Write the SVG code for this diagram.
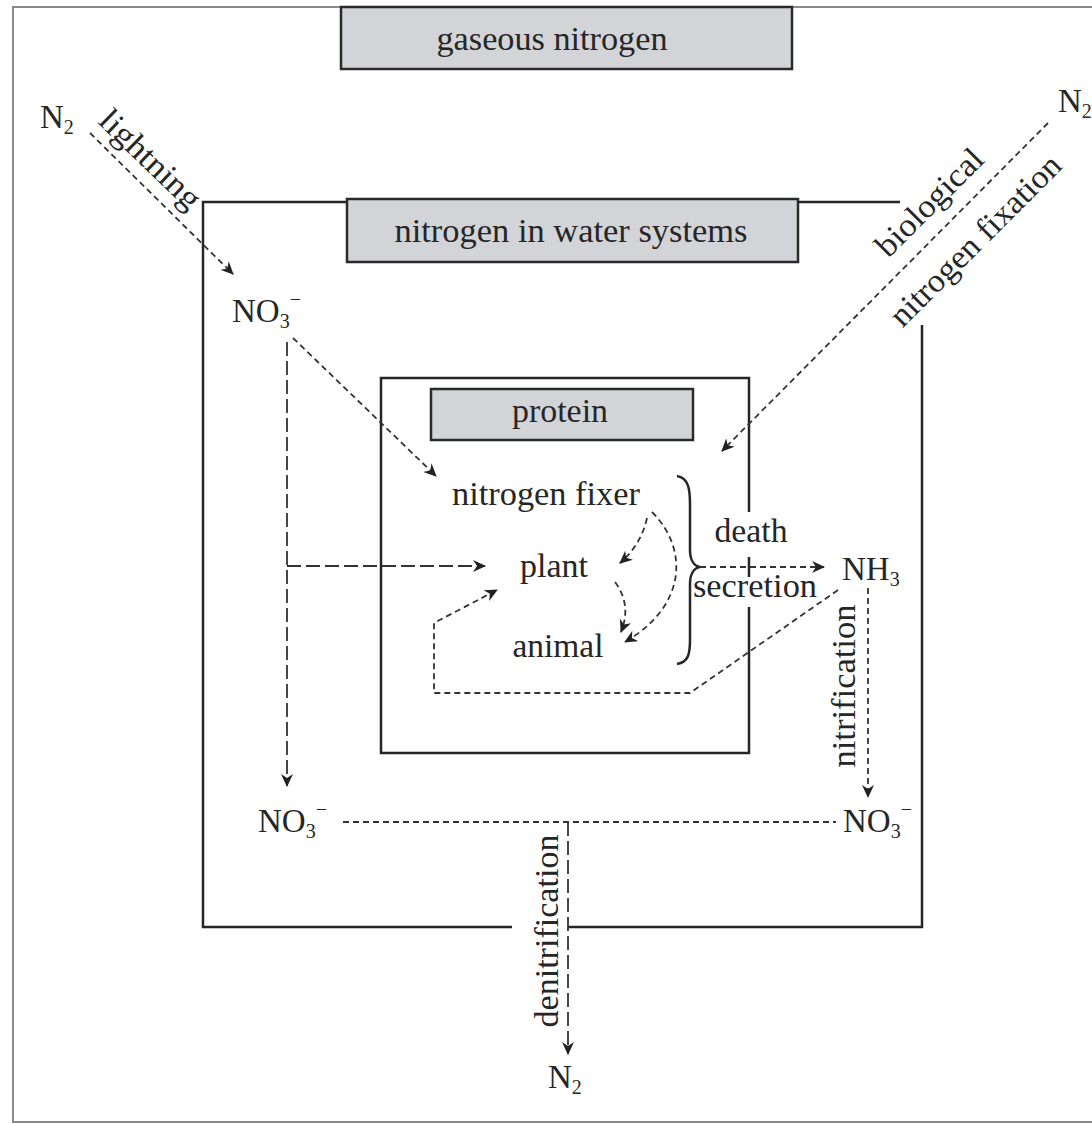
<svg xmlns="http://www.w3.org/2000/svg" width="1092" height="1124" viewBox="0 0 1092 1124">
<style>
.t { font-family: "Liberation Serif", "Times New Roman", serif; font-size: 33px; fill: #262626; }
.s { font-size: 20px; }
.box { fill: #d3d4d8; stroke: #2a2a2a; stroke-width: 2.5; }
.frame { fill: none; stroke: #262626; stroke-width: 2.5; }
.d { fill: none; stroke: #333; stroke-width: 1.8; stroke-dasharray: 6 4; }
.dl { fill: none; stroke: #333; stroke-width: 1.8; stroke-dasharray: 14 5; }
</style>
<defs>
<marker id="ah" markerWidth="14" markerHeight="12" refX="12" refY="6" orient="auto" markerUnits="userSpaceOnUse">
<path d="M0,0 L13,6 L0,12 L4,6 z" fill="#222"/>
</marker>
</defs>
<rect x="0" y="0" width="1092" height="1124" fill="#fff"/>
<rect x="13" y="7" width="1100" height="1115" fill="none" stroke="#8a8a8a" stroke-width="2"/>

<g id="water-frame">
<path class="frame" d="M900,202 L203,202 L203,927 L512,927 M568,927 L922,927 L922,325"/>
</g>
<g id="protein-frame">
<path class="frame" d="M749,512 L749,378 L381,378 L381,753 L749,753 L749,607 M749,557 L749,577"/>
<path class="frame" d="M677,476 C689,478 690,490 690,505 L690,550 C690,560 694,566 700,567 C694,568 690,574 690,584 L690,640 C690,655 688,662 677,664"/>
</g>

<g id="gaseous-nitrogen">
<rect class="box" x="341" y="7" width="451" height="62"/>
<text class="t" x="552" y="50" text-anchor="middle" textLength="231" lengthAdjust="spacingAndGlyphs">gaseous nitrogen</text>
</g>
<g id="water-systems">
<rect class="box" x="347" y="199" width="451" height="63"/>
<text class="t" x="571" y="242" text-anchor="middle" textLength="353" lengthAdjust="spacingAndGlyphs">nitrogen in water systems</text>
</g>
<g id="protein">
<rect class="box" x="431" y="389" width="262" height="51"/>
<text class="t" x="560" y="422" text-anchor="middle" textLength="96" lengthAdjust="spacingAndGlyphs">protein</text>
</g>

<g id="n2-left"><text class="t" x="40" y="128">N<tspan class="s" dy="6">2</tspan></text></g>
<g id="n2-right"><text class="t" x="1058" y="112">N<tspan class="s" dy="6">2</tspan></text></g>
<g id="no3-top"><text class="t" x="232" y="322">NO<tspan class="s" dy="6">3</tspan><tspan class="s" dy="-22">−</tspan></text></g>
<g id="nitrogen-fixer"><text class="t" x="546" y="505" text-anchor="middle" textLength="188" lengthAdjust="spacingAndGlyphs">nitrogen fixer</text></g>
<g id="plant"><text class="t" x="554" y="577" text-anchor="middle" textLength="68" lengthAdjust="spacingAndGlyphs">plant</text></g>
<g id="animal"><text class="t" x="558" y="657" text-anchor="middle" textLength="91" lengthAdjust="spacingAndGlyphs">animal</text></g>
<g id="nh3"><text class="t" x="842" y="580">NH<tspan class="s" dy="6">3</tspan></text></g>
<g id="no3-left"><text class="t" x="258" y="832">NO<tspan class="s" dy="6">3</tspan><tspan class="s" dy="-22">−</tspan></text></g>
<g id="no3-right"><text class="t" x="843" y="832">NO<tspan class="s" dy="6">3</tspan><tspan class="s" dy="-22">−</tspan></text></g>
<g id="n2-bottom"><text class="t" x="548" y="1088">N<tspan class="s" dy="6">2</tspan></text></g>

<g id="connectors">
<path class="d" d="M90,133 L233,274" marker-end="url(#ah)"/>
<path class="d" d="M1048,123 L722,451" marker-end="url(#ah)"/>
<path class="d" d="M293,338 L436,476" marker-end="url(#ah)"/>
<path class="dl" d="M287,342 L287,786" marker-end="url(#ah)"/>
<path class="dl" d="M287,566 L485,566" marker-end="url(#ah)"/>
<path class="d" d="M647,518 Q641,545 620,563" marker-end="url(#ah)"/>
<path class="d" d="M652,512 C688,548 688,605 625,642" marker-end="url(#ah)"/>
<path class="d" d="M615,582 Q632,605 621,632" marker-end="url(#ah)"/>
<path class="d" d="M838,590 L690,693 L434,693 L434,623 L497,590" marker-end="url(#ah)"/>
<path class="d" d="M700,567 L824,567" marker-end="url(#ah)"/>
<path class="d" d="M868,588 L868,797" marker-end="url(#ah)"/>
<path class="d" d="M343,822 L836,822"/>
<path class="dl" d="M568,822 L568,1054" marker-end="url(#ah)"/>
</g>

<g id="labels">
<text class="t" transform="translate(143,167) rotate(44)" text-anchor="middle" textLength="128" lengthAdjust="spacingAndGlyphs">lightning</text>
<text class="t" transform="translate(937,210) rotate(-45)" text-anchor="middle" textLength="138" lengthAdjust="spacingAndGlyphs">biological</text>
<text class="t" transform="translate(983,248) rotate(-45)" text-anchor="middle" textLength="228" lengthAdjust="spacingAndGlyphs">nitrogen fixation</text>
<text class="t" x="751" y="542" text-anchor="middle" textLength="73" lengthAdjust="spacingAndGlyphs">death</text>
<text class="t" x="755" y="597" text-anchor="middle" textLength="124" lengthAdjust="spacingAndGlyphs">secretion</text>
<text class="t" transform="translate(855,686) rotate(-90)" text-anchor="middle" textLength="163" lengthAdjust="spacingAndGlyphs">nitrification</text>
<text class="t" transform="translate(558,931) rotate(-90)" text-anchor="middle" textLength="193" lengthAdjust="spacingAndGlyphs">denitrification</text>
</g>
</svg>
